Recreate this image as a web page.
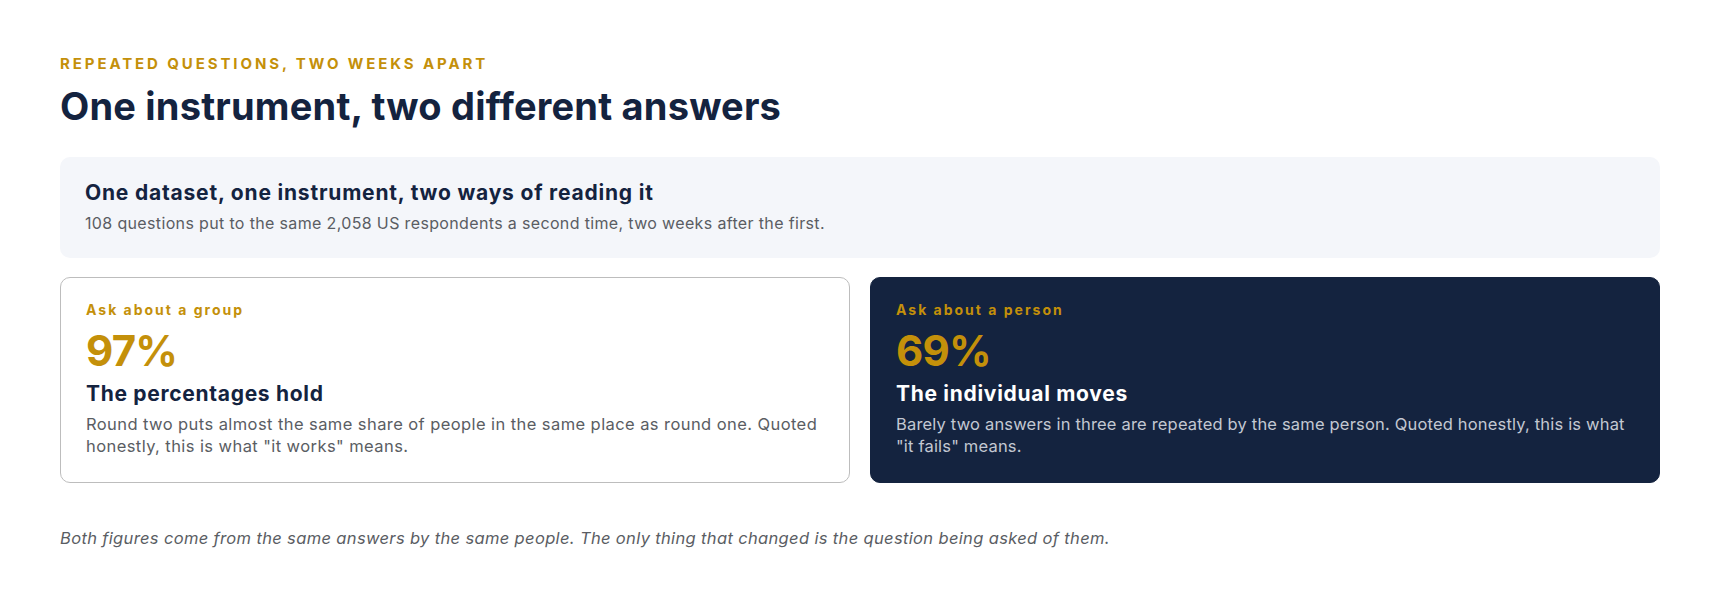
<!DOCTYPE html>
<html>
<head>
<meta charset="utf-8">
<script src="https://cdn.jsdelivr.net/npm/chart.js@4.4.1/dist/chart.umd.min.js"></script>
<style>
  html, body { margin: 0; padding: 0; background: #ffffff; }
  body { width: 1720px; height: 602px; position: relative; overflow: hidden;
         font-family: Inter, "Noto Sans", sans-serif; color: #14233f; }
  .abs { position: absolute; left: 60px; }
  .eyebrow { top: 54px; font-size: 15px; line-height: 20px; font-weight: 700;
             letter-spacing: 2.9px; color: #c4900a; text-transform: uppercase; }
  .title { top: 83px; font-size: 38px; line-height: 46px; font-weight: 700; letter-spacing: 0.2px; }
  .summary { top: 157px; width: 1600px; height: 101px; box-sizing: border-box;
             background: #f4f6fa; border-radius: 10px; padding: 22px 25px 0; }
  .summary h2 { margin: 0; font-size: 21px; line-height: 27px; font-weight: 700; letter-spacing: 0.8px; }
  .summary p { margin: 6px 0 0; font-size: 16px; line-height: 22px; color: #5a5d63; letter-spacing: 0.35px; }
  .cards { top: 277px; width: 1600px; height: 206px; display: flex; gap: 20px; }
  .card { flex: 1; box-sizing: border-box; border-radius: 10px; padding: 23px 12px 0 25px; }
  .card.light { background: #ffffff; border: 1px solid #bdbdbd; }
  .card.dark { background: #14233f; border: 1px solid #14233f; }
  .card .label { font-size: 14px; line-height: 18px; font-weight: 700; letter-spacing: 2px; color: #c4900a; }
  .card .pct { margin-top: 7px; font-size: 42px; line-height: 50px; font-weight: 700; letter-spacing: -0.8px; color: #c4900a; }
  .card h3 { margin: 4px 0 0; font-size: 21px; line-height: 28px; font-weight: 700; letter-spacing: 0.7px; }
  .card p { margin: 5px 0 0; font-size: 16.5px; line-height: 22px; color: #5a5d63; letter-spacing: 0.42px; }
  .card.dark h3 { color: #ffffff; }
  .card.dark p { color: #c3c8d2; letter-spacing: 0.18px; }
  .footnote { top: 527px; font-size: 16.5px; line-height: 22px; font-style: italic; color: #5a5d63; letter-spacing: 0.35px; }
</style>
</head>
<body>
<script>
const eyebrow = 'Repeated questions, two weeks apart';
const title = 'One instrument, two different answers';
const summaryHeading = 'One dataset, one instrument, two ways of reading it';
const summaryText = '108 questions put to the same 2,058 US respondents a second time, two weeks after the first.';
const cardLabels = ['Ask about a group', 'Ask about a person'];
const cardValues = [97, 69];
const cardHeadings = ['The percentages hold', 'The individual moves'];
const cardBodies = [
  'Round two puts almost the same share of people in the same place as round one. Quoted honestly, this is what "it works" means.',
  'Barely two answers in three are repeated by the same person. Quoted honestly, this is what "it fails" means.'
];
const footnote = 'Both figures come from the same answers by the same people. The only thing that changed is the question being asked of them.';

function el(tag, cls, text) {
  const e = document.createElement(tag);
  if (cls) e.className = cls;
  if (text != null) e.textContent = text;
  return e;
}

document.body.appendChild(el('div', 'abs eyebrow', eyebrow));
document.body.appendChild(el('div', 'abs title', title));

const summary = el('div', 'abs summary');
summary.appendChild(el('h2', null, summaryHeading));
summary.appendChild(el('p', null, summaryText));
document.body.appendChild(summary);

const cards = el('div', 'abs cards');
cardLabels.forEach((lab, i) => {
  const c = el('div', 'card ' + (i === 0 ? 'light' : 'dark'));
  c.appendChild(el('div', 'label', lab));
  c.appendChild(el('div', 'pct', cardValues[i] + '%'));
  c.appendChild(el('h3', null, cardHeadings[i]));
  c.appendChild(el('p', null, cardBodies[i]));
  cards.appendChild(c);
});
document.body.appendChild(cards);

document.body.appendChild(el('div', 'abs footnote', footnote));
</script>
</body>
</html>
